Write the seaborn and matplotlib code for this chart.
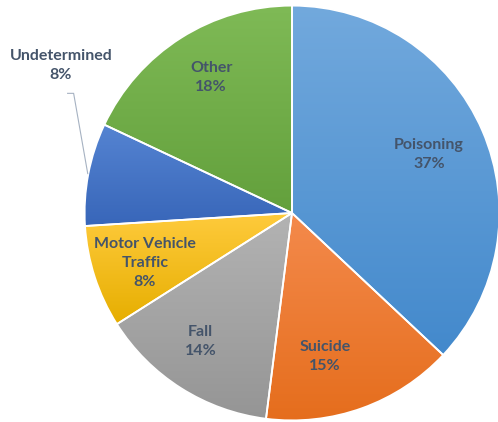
#!/usr/bin/env python3
"""
Injury deaths by mechanism - pie chart
"""
import numpy as np
import matplotlib
matplotlib.use('Agg')
import matplotlib.pyplot as plt
import seaborn as sns

# data
categories = ['Poisoning', 'Suicide', 'Fall', 'Motor Vehicle\nTraffic', 'Undetermined', 'Other']
shares = [37, 15, 14, 8, 8, 18]

# gradient fills (top, bottom) per slice, office style
top_colors = ['#72A9DD', '#F48A4C', '#B3B3B3', '#FFCB3D', '#5584D2', '#7FBA56']
bottom_colors = ['#4389CC', '#E56D1C', '#959595', '#E6AE00', '#3866B9', '#63A03C']

# label anchor points (axes data units, pie radius = 1)
label_pos = [(0.66, 0.28), (0.16, -0.69), (-0.44, -0.62), (-0.71, -0.24), (-1.115, 0.71), (-0.39, 0.655)]
text_color = '#44546A'

fig = plt.figure(figsize=(4.98, 4.22), dpi=100)
ax = fig.add_axes([84 / 498, 0 / 422, 416 / 498, 418 / 422])

wedges, _ = ax.pie(shares, startangle=90, counterclock=False,
                   colors=bottom_colors,
                   wedgeprops=dict(edgecolor='white', linewidth=1.3))

# paint a vertical gradient into each wedge
for w, c_top, c_bot in zip(wedges, top_colors, bottom_colors):
    verts = w.get_path().vertices
    x0, x1 = verts[:, 0].min(), verts[:, 0].max()
    y0, y1 = verts[:, 1].min(), verts[:, 1].max()
    grad = np.array(sns.blend_palette([c_bot, c_top], 256))[:, None, :3]
    img = ax.imshow(grad, extent=[x0, x1, y0, y1], origin='lower',
                    aspect='auto', zorder=1, interpolation='bilinear')
    img.set_clip_path(w)
    w.set_facecolor('none')
    w.set_zorder(2)

ax.set_xlim(-1.003, 1.003)
ax.set_ylim(-1.003, 1.003)
ax.set_aspect('equal')
ax.axis('off')

for name, val, (tx, ty) in zip(categories, shares, label_pos):
    ax.text(tx, ty, f'{name}\n{val}%', ha='center', va='center',
            fontsize=11.5, fontweight='bold', family='Lato',
            color=text_color, linespacing=1.45, zorder=5, clip_on=False)

# leader line for the small outside label
ax.plot([-1.082, -1.053, -0.985], [0.577, 0.577, 0.19], color='#A6B2C2',
        linewidth=0.8, zorder=4, clip_on=False)

plt.savefig('out.png', dpi=100)
plt.close()
